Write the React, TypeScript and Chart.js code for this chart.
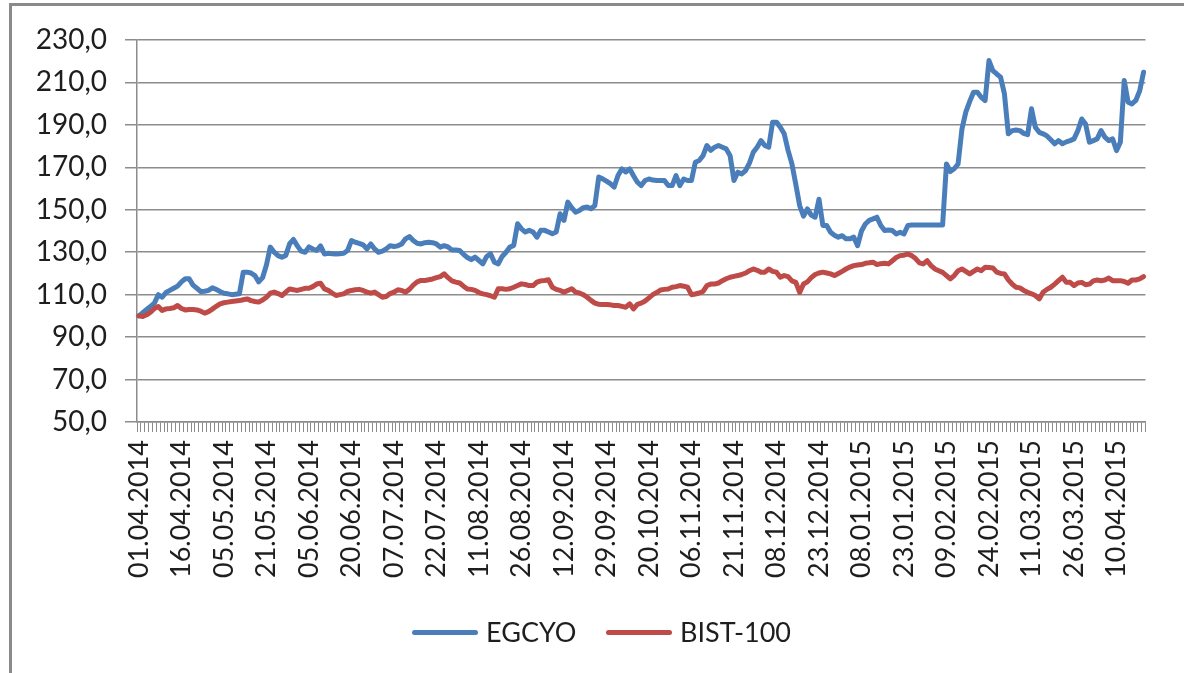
import React, { useEffect, useRef } from 'react';
import { Chart, registerables } from 'chart.js';

Chart.register(...registerables);

const xTickLabels = [
  '01.04.2014', '16.04.2014', '05.05.2014', '21.05.2014', '05.06.2014', '20.06.2014',
  '07.07.2014', '22.07.2014', '11.08.2014', '26.08.2014', '12.09.2014', '29.09.2014',
  '20.10.2014', '06.11.2014', '21.11.2014', '08.12.2014', '23.12.2014', '08.01.2015',
  '23.01.2015', '09.02.2015', '24.02.2015', '11.03.2015', '26.03.2015', '10.04.2015',
];

const egcyo = [
  100, 101.5, 103, 104.5, 106, 110, 108.8, 111, 112, 113,
  114, 116, 117.5, 117.5, 114.5, 113, 111.5, 111.6, 112, 113.2,
  112.5, 111.5, 110.7, 110.4, 110, 110.2, 110.4, 120.6, 120.6, 120.2,
  119, 116, 118, 124, 132.4, 130, 128.4, 127.6, 128.5, 134,
  136, 133, 130.5, 130, 132.5, 131.5, 130.8, 133, 129.2, 129.5,
  129.3, 129.2, 129.3, 129.5, 130.8, 135.5, 134.7, 134.2, 133.5, 131.6,
  133.9, 131.5, 130, 130.5, 131.6, 133.1, 132.7, 133, 133.9, 136.3,
  137.4, 135.5, 134.2, 133.9, 134.5, 134.7, 134.5, 133.9, 132.4, 133.1,
  132.5, 131.1, 131, 130.8, 129, 127.5, 126.5, 127.7, 126.1, 124.5,
  128, 129.3, 125.3, 124.5, 128, 130, 132.4, 133.2, 143.4, 141,
  139.5, 140.3, 139.5, 137.1, 140.3, 140.3, 139.5, 138.7, 139.5, 148.1,
  145, 153.6, 151, 148.9, 149.7, 151, 151.3, 150.5, 152, 165.4,
  164.6, 163.5, 162.3, 160.7, 166.2, 169.3, 167.8, 169.3, 166, 163,
  161.4, 163.8, 164.5, 164, 163.8, 163.8, 163.8, 161.4, 161.4, 166.1,
  161.4, 164.5, 163.8, 163.8, 172.4, 173.2, 175.5, 180.3, 178, 179.5,
  180.3, 179.5, 178.7, 175.5, 163.8, 167.7, 166.9, 168.5, 172, 177.1,
  179.5, 182.6, 180.3, 179.5, 191.3, 191.3, 188.9, 185.8, 178, 171.6,
  162, 152, 147, 150.4, 147.5, 146.5, 155, 142.6, 142.6, 139.4,
  138, 137.1, 137.8, 136.3, 136.3, 137.1, 133.1, 140, 143.3, 145,
  145.7, 146.5, 142.6, 140.2, 140.5, 140.2, 138.6, 139.4, 138.6, 142.6,
  142.8, 142.8, 142.8, 142.8, 142.8, 142.8, 142.8, 142.8, 142.8, 171.6,
  168, 169.3, 171.6, 188, 196, 201, 205.4, 205.4, 203, 201.5,
  220.3, 215.6, 214, 212.5, 204.6, 185.8, 187.3, 187.6, 187.3, 186,
  185.4, 197.6, 188.9, 186.5, 185.8, 184.8, 183, 181.1, 182.6, 181.1,
  182, 182.6, 183.4, 187.3, 192.8, 190.4, 181.8, 182.6, 183.4, 187.3,
  184.2, 182.6, 183.4, 177.9, 181.8, 210.9, 200.7, 199.9, 201.5, 206,
  214.8,
];

const bist100 = [
  100, 99.7, 100.5, 101.7, 103.5, 104.4, 102.5, 103.3, 103.5, 103.8,
  104.9, 103.5, 102.8, 103, 103, 102.8, 102.2, 101.3, 102, 103.2,
  104.5, 105.7, 106.2, 106.5, 106.8, 107, 107.2, 107.6, 108, 107.2,
  106.8, 106.5, 107.5, 108.8, 110.7, 111.2, 110.5, 109.6, 111.2, 112.7,
  112.3, 112, 112.5, 113, 113, 113.8, 115, 115.4, 112.7, 112,
  110.8, 109.6, 110, 110.4, 111.5, 112, 112.3, 112.5, 112, 111.2,
  110.7, 111.2, 110, 108.8, 109.1, 110.5, 111.2, 112.3, 112, 111.2,
  112.5, 114.5, 116, 116.7, 116.7, 117, 117.4, 118, 118.5, 119.8,
  118, 116.5, 115.9, 115.5, 114, 112.7, 112.5, 112, 111, 110.4,
  110, 109.5, 108.8, 112.8, 112.8, 112.5, 112.8, 113.5, 114.3, 115.1,
  114.8, 114.3, 114.3, 115.9, 116.5, 116.7, 117, 113.5, 112.5, 112,
  111.2, 112, 112.8, 111.2, 110.8, 110, 108.8, 107.3, 106, 105.5,
  105.4, 105.4, 105.2, 104.9, 104.9, 104.5, 104.1, 105.7, 103.3, 105.4,
  106, 107, 108.5, 110, 111, 112.2, 112.5, 112.7, 113.5, 113.8,
  114.3, 114, 113.5, 110, 110.3, 110.8, 111.5, 114.3, 115, 115,
  115.5, 116.6, 117.5, 118.2, 118.6, 119, 119.5, 120.2, 121.3, 122.1,
  121.5, 120.6, 120.6, 122.1, 121, 120.6, 118.2, 119, 118.5, 116.5,
  115.8, 111.1, 115, 116, 118, 119.5, 120.2, 120.6, 120.2, 119.8,
  119, 120, 121, 122.1, 123, 123.7, 124, 124.2, 124.8, 125,
  125.3, 124.2, 124.6, 124.8, 124.5, 126, 127.5, 128.4, 128.6, 129.2,
  128.4, 127, 125, 124.5, 126, 123.7, 122.1, 121.3, 120.5, 119,
  117.4, 119, 121.3, 122.1, 121, 119.8, 121, 122.1, 121.3, 122.9,
  122.8, 122.6, 120.6, 120, 119.8, 117, 115, 113.5, 113.2, 112,
  111.1, 110.4, 109.6, 108, 111.1, 112.5, 113.5, 115, 116.6, 118.2,
  115.8, 115.8, 114.3, 115.5, 115.8, 114.7, 115, 116.5, 116.9, 116.6,
  116.9, 117.8, 116.6, 116.6, 116.6, 116.2, 115.4, 116.9, 116.9, 117.4,
  118.5,
];

const seriesNames = ['EGCYO', 'BIST-100'];
const LABEL_EVERY = 11;
const categories = egcyo.map((_, i) => String(i));

const BLUE = '#4a7ebb';
const RED = '#be4b48';
const GRID = '#8c8c8c';
const TEXT = '#1e1e1e';
const FONT = 'Lato, "Open Sans", sans-serif';

export default function App() {
  const ref = useRef<HTMLCanvasElement>(null);

  useEffect(() => {
    const chart = new Chart(ref.current as HTMLCanvasElement, {
      type: 'line',
      data: {
        labels: categories,
        datasets: [
          {
            label: seriesNames[0],
            data: egcyo,
            borderColor: BLUE,
            backgroundColor: BLUE,
            borderWidth: 5,
            pointRadius: 0,
            tension: 0,
            borderCapStyle: 'round',
            borderJoinStyle: 'round',
            order: 1,
          },
          {
            label: seriesNames[1],
            data: bist100,
            borderColor: RED,
            backgroundColor: RED,
            borderWidth: 5,
            pointRadius: 0,
            tension: 0,
            borderCapStyle: 'round',
            borderJoinStyle: 'round',
            order: 0,
          },
        ],
      },
      options: {
        responsive: false,
        animation: false,
        events: [],
        layout: { padding: { left: 20, top: 40, right: 32, bottom: 91 } },
        plugins: { legend: { display: false }, tooltip: { enabled: false } },
        scales: {
          x: {
            type: 'category',
            offset: true,
            grid: {
              display: true,
              offset: true,
              drawOnChartArea: false,
              drawTicks: true,
              tickLength: 10,
              color: GRID,
              lineWidth: 1,
            },
            border: { display: true, color: GRID, width: 1.5 },
            ticks: {
              autoSkip: false,
              maxRotation: 90,
              minRotation: 90,
              padding: 8,
              color: TEXT,
              font: { family: FONT, size: 27 },
              callback: (_v: any, i: number) =>
                i % LABEL_EVERY === 0 ? xTickLabels[i / LABEL_EVERY] ?? '' : '',
            },
            afterFit: (s: any) => {
              s.height = 160;
            },
          },
          y: {
            min: 50,
            max: 230,
            ticks: {
              stepSize: 20,
              padding: 18,
              color: TEXT,
              font: { family: FONT, size: 28 },
              callback: (v: any) => Number(v).toFixed(1).replace('.', ','),
            },
            grid: { color: GRID, lineWidth: 1.5, tickLength: 12 },
            border: { display: true, color: GRID, width: 1.5 },
            afterFit: (s: any) => {
              s.width = 117;
            },
          },
        },
      },
    });
    return () => chart.destroy();
  }, []);

  const legendText: React.CSSProperties = {
    position: 'absolute',
    top: 616,
    fontFamily: FONT,
    fontSize: 27,
    lineHeight: '32px',
    color: TEXT,
    whiteSpace: 'nowrap',
  };
  const legendLine = (left: number, color: string): React.CSSProperties => ({
    position: 'absolute',
    left,
    top: 629.5,
    width: 66,
    height: 5,
    borderRadius: 3,
    background: color,
  });

  return (
    <div
      style={{
        position: 'absolute',
        left: 0,
        top: 0,
        width: 1184,
        height: 673,
        background: '#fff',
        overflow: 'hidden',
      }}
    >
      <div
        style={{
          position: 'absolute',
          left: 9,
          top: 3,
          width: 1250,
          height: 750,
          borderLeft: '3px solid #8a8a8a',
          borderTop: '3px solid #8a8a8a',
        }}
      />
      <canvas
        ref={ref}
        width={1184}
        height={673}
        style={{ position: 'absolute', left: 0, top: 0, width: 1184, height: 673 }}
      />
      <div style={legendLine(412, BLUE)} />
      <span style={{ ...legendText, left: 486 }}>{seriesNames[0]}</span>
      <div style={legendLine(606, RED)} />
      <span style={{ ...legendText, left: 680 }}>{seriesNames[1]}</span>
    </div>
  );
}
